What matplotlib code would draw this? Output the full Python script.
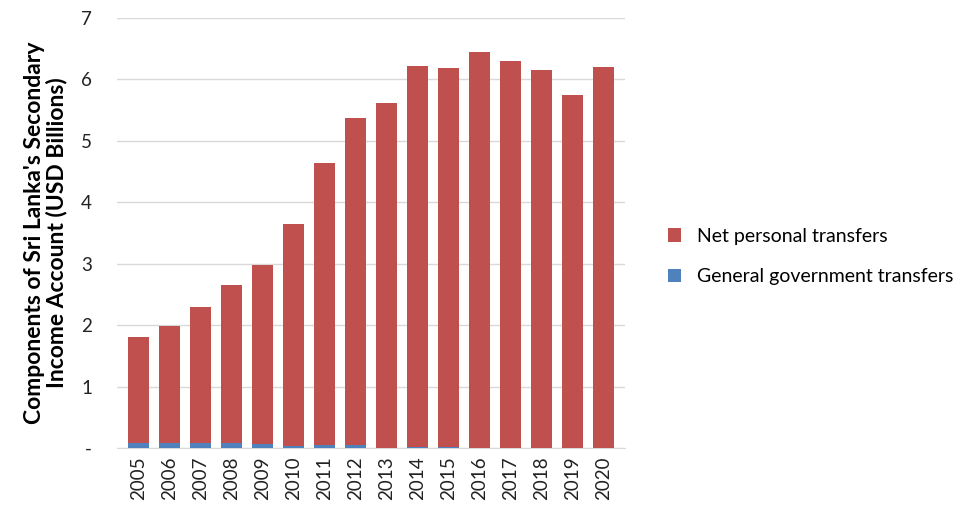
import matplotlib.pyplot as plt
import numpy as np

plt.rcParams['font.family'] = ['Lato', 'DejaVu Sans']

years = [str(y) for y in range(2005, 2021)]
total = [1.81, 1.99, 2.30, 2.65, 2.98, 3.65, 4.64, 5.37, 5.62, 6.22, 6.19, 6.45, 6.30, 6.16, 5.75, 6.20]
govt = [0.08, 0.08, 0.085, 0.085, 0.065, 0.04, 0.05, 0.05, 0.005, 0.02, 0.02, 0.005, 0.005, 0.005, 0.005, 0.005]
personal = [t - g for t, g in zip(total, govt)]

red = "#C0504D"
blue = "#4F81BD"

fig = plt.figure(figsize=(9.54, 5.09), dpi=100)
ax = fig.add_axes([0.1226, 0.1198, 0.5325, 0.8448])

x = np.arange(len(years))
b1 = ax.bar(x, govt, width=0.66, color=blue, label="General government transfers", zorder=3)
b2 = ax.bar(x, personal, width=0.66, bottom=govt, color=red, label="Net personal transfers", zorder=3)

ax.set_xlim(-0.7, len(years) - 0.3)
ax.set_ylim(0, 7)
ax.set_yticks(range(8))
ax.set_yticklabels(["-"] + [str(i) for i in range(1, 8)])
ax.set_xticks(x)
ax.set_xticklabels(years, rotation=90)
ax.tick_params(axis="both", length=0, labelsize=13.5, colors="#222222")
ax.tick_params(axis="y", pad=18)
ax.tick_params(axis="x", pad=6)

ax.grid(axis="y", color="#D9D9D9", linewidth=1, zorder=0)
for s in ["top", "right", "left"]:
    ax.spines[s].set_visible(False)
ax.spines["bottom"].set_color("#D9D9D9")

ax.set_ylabel("Components of Sri Lanka's Secondary\nIncome Account (USD Billions)",
              fontsize=16.5, fontweight="bold", labelpad=10, linespacing=1.0)

ax.legend(handles=[b2, b1], loc="center left", bbox_to_anchor=(1.05, 0.445),
          frameon=False, fontsize=14, handlelength=0.7, handleheight=0.7,
          labelspacing=1.2, handletextpad=0.8)

fig.savefig("out.png", dpi=100)
